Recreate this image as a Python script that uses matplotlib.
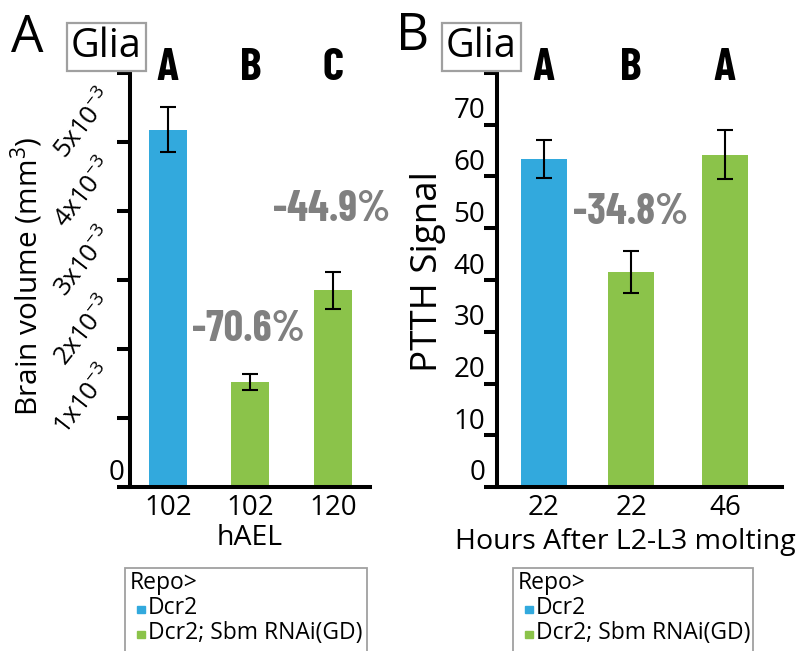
import matplotlib
matplotlib.use('Agg')
from matplotlib import pyplot as plt
from matplotlib.patches import Rectangle
import matplotlib.transforms as mtransforms

plt.rcParams['font.family'] = ['Open Sans', 'DejaVu Sans']
plt.rcParams['mathtext.fontset'] = 'custom'
plt.rcParams['mathtext.rm'] = 'Open Sans'
plt.rcParams['mathtext.it'] = 'Open Sans'

#------- data -----------
hael_labels = ['102', '102', '120']
brain_vol = [5.18e-3, 1.52e-3, 2.85e-3]
brain_err = [0.33e-3, 0.12e-3, 0.27e-3]
brain_letters = ['A', 'B', 'C']
brain_pct = ['-70.6%', '-44.9%']

hours_labels = ['22', '22', '46']
ptth = [63.4, 41.6, 64.2]
ptth_err = [3.6, 4.1, 4.7]
ptth_letters = ['A', 'B', 'A']
ptth_pct = ['-34.8%']

legend_title = 'Repo>'
legend_names = ['Dcr2', 'Dcr2; Sbm RNAi(GD)']
#------------------------

BLUE = '#32a9dd'
GREEN = '#8bc34a'
GRAY = '#808080'
bar_colors = [BLUE, GREEN, GREEN]
COND = dict(family=['Barlow Condensed', 'Roboto Condensed', 'DejaVu Sans'], weight='bold')

W, H = 797, 651
fig = plt.figure(figsize=(W / 100, H / 100), dpi=100)


def px_axes(l, r, t, b):
    return fig.add_axes([l / W, 1 - b / H, (r - l) / W, (b - t) / H])


def style(ax):
    for s in ['top', 'right']:
        ax.spines[s].set_visible(False)
    for s in ['left', 'bottom']:
        ax.spines[s].set_linewidth(2.9)
    ax.tick_params(axis='y', width=2.9, length=9.5, labelsize=20, pad=2)
    ax.tick_params(axis='x', length=0, labelsize=20, pad=5)


def shift(label, dx, dy):
    label.set_transform(label.get_transform() +
                        mtransforms.ScaledTranslation(dx / 100, dy / 100, fig.dpi_scale_trans))


def legend_box(x0, x1):
    y0 = 568
    fig.patches.append(Rectangle((x0 / W, -0.05), (x1 - x0) / W, 1.05 - y0 / H,
                                 transform=fig.transFigure, fill=False,
                                 edgecolor='#a0a0a0', linewidth=1.3))
    fig.text((x0 + 5) / W, 1 - 589 / H, legend_title, fontsize=16.5)
    for i, (name, c) in enumerate(zip(legend_names, [BLUE, GREEN])):
        yy = 614 + 25 * i
        fig.patches.append(Rectangle(((x0 + 12) / W, 1 - (yy - 1) / H), 7.5 / W, 7.5 / H,
                                     transform=fig.transFigure, color=c))
        fig.text((x0 + 23) / W, 1 - yy / H, name, fontsize=16.5)


def glia_box(x, y):
    fig.text(x / W, 1 - y / H, 'Glia', fontsize=28.5, va='baseline',
             bbox=dict(boxstyle='square,pad=0.1', fc='white', ec='#a0a0a0', lw=1.6))


# ---------- panel A ----------
axA = px_axes(130, 370, 73, 487)
style(axA)
xa = [0, 1, 2]
axA.bar(xa, brain_vol, width=0.46, color=bar_colors)
axA.errorbar(xa, brain_vol, yerr=brain_err, fmt='none', ecolor='black',
             elinewidth=1.5, capsize=5.5, capthick=1.5)
axA.set_xlim(-0.46, 2.45)
axA.set_ylim(0, 6e-3)
axA.set_xticks(xa)
axA.set_xticklabels(hael_labels)
yt = [i * 1e-3 for i in range(7)]
axA.set_yticks(yt)
axA.set_yticklabels(['0'] + [r'%dx10$^{-3}$' % i for i in range(1, 6)] + [''])
for i, lab in enumerate(axA.get_yticklabels()):
    if i == 0:
        shift(lab, 10, 17)
    else:
        lab.set_rotation(52)
        lab.set_fontsize(18.5)
        lab.set_va('center')
        lab.set_ha('right')
        shift(lab, 6, 17)
axA.set_xlabel('hAEL', fontsize=20.5, labelpad=1)
axA.xaxis.set_label_coords(0.5, -0.09)
axA.set_ylabel('Brain volume (mm$^3$)', fontsize=21.5, labelpad=2)
axA.yaxis.set_label_coords(-0.355, 0.51)
tA = mtransforms.blended_transform_factory(axA.transData, axA.transAxes)
for x, s in zip(xa, brain_letters):
    axA.text(x, 0.983, s, transform=tA, ha='center', va='baseline',
             fontsize=33, clip_on=False, **COND)
axA.text(0.97, 2.28e-3, brain_pct[0], ha='center', va='center', color=GRAY,
         fontsize=31, clip_on=False, **COND)
axA.text(1.98, 4.02e-3, brain_pct[1], ha='center', va='center', color=GRAY,
         fontsize=31, clip_on=False, **COND)

# ---------- panel B ----------
axB = px_axes(497, 782, 73, 487)
style(axB)
xb = [0, 1, 2.08]
axB.bar(xb, ptth, width=0.52, color=bar_colors)
axB.errorbar(xb, ptth, yerr=ptth_err, fmt='none', ecolor='black',
             elinewidth=1.5, capsize=5.5, capthick=1.5)
axB.set_xlim(-0.54, 2.735)
axB.set_ylim(0, 80)
axB.set_xticks(xb)
axB.set_xticklabels(hours_labels)
axB.set_yticks(range(0, 90, 10))
axB.set_yticklabels([str(v) for v in range(0, 80, 10)] + [''])
for lab in axB.get_yticklabels():
    shift(lab, 4, 17)
axB.set_xlabel('Hours After L2-L3 molting', fontsize=20.5, labelpad=1)
axB.xaxis.set_label_coords(0.449, -0.1)
axB.set_ylabel('PTTH Signal', fontsize=26.5, labelpad=2)
axB.yaxis.set_label_coords(-0.18, 0.52)
tB = mtransforms.blended_transform_factory(axB.transData, axB.transAxes)
for x, s in zip(xb, ptth_letters):
    axB.text(x, 0.983, s, transform=tB, ha='center', va='baseline',
             fontsize=33, clip_on=False, **COND)
axB.text(0.99, 53, ptth_pct[0], ha='center', va='center', color=GRAY,
         fontsize=31, clip_on=False, **COND)

# ---------- decorations ----------
fig.text(11 / W, 1 - 52 / H, 'A', fontsize=37, va='baseline')
fig.text(396 / W, 1 - 50 / H, 'B', fontsize=37, va='baseline')
glia_box(71, 57)
glia_box(446, 57)
legend_box(125, 367)
legend_box(513, 753)

fig.savefig('out.png', dpi=100)
